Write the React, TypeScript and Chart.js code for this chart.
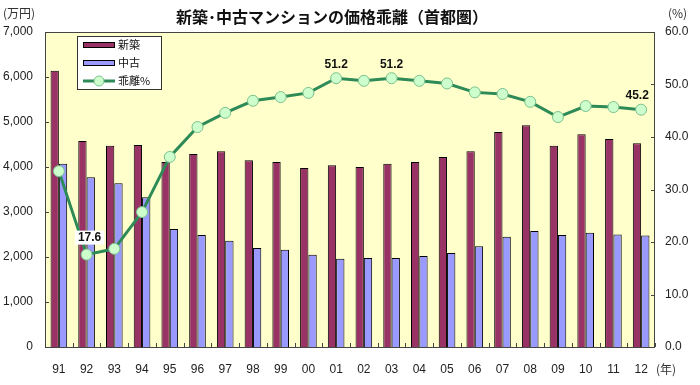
import React, { useEffect, useRef } from "react";
import { Chart, registerables } from "chart.js";
Chart.register(...registerables);

const years = ["91","92","93","94","95","96","97","98","99","00","01","02","03","04","05","06","07","08","09","10","11","12"];
const newPrices = [6140, 4580, 4470, 4490, 4110, 4290, 4350, 4150, 4110, 3980, 4040, 4000, 4070, 4110, 4220, 4350, 4780, 4930, 4470, 4730, 4620, 4530];
const usedPrices = [4070, 3770, 3640, 3330, 2620, 2490, 2360, 2200, 2160, 2050, 1960, 1980, 1980, 2020, 2090, 2240, 2450, 2580, 2490, 2540, 2500, 2480];
const gapPct = [33.5, 17.6, 18.7, 25.7, 36.2, 41.9, 44.6, 46.9, 47.6, 48.4, 51.2, 50.7, 51.2, 50.7, 50.2, 48.5, 48.2, 46.7, 43.8, 45.9, 45.7, 45.2];
const labeledIdx = [1, 10, 12, 21];
const legendLabels = ["新築", "中古", "乖離%"];
const titleText = "新築･中古マンションの価格乖離（首都圏）";

const RED = "#993366";
const BLUE = "#9999FF";
const GREEN = "#2E8B57";
const POINT_FILL = "#CCFFCC";
const JP = '"Noto Sans CJK JP", "Liberation Sans", sans-serif';
const NUM = '"Liberation Sans", Arial, sans-serif';

const extrasPlugin = {
  id: "extras",
  beforeDraw(chart: any) {
    const { ctx, chartArea: a } = chart;
    ctx.save();
    ctx.fillStyle = "#FFFFCC";
    ctx.fillRect(a.left, a.top, a.right - a.left, a.bottom - a.top);
    ctx.restore();
  },
  afterDraw(chart: any) {
    const { ctx, chartArea: a, scales } = chart;
    ctx.save();
    // border
    ctx.strokeStyle = "#444";
    ctx.lineWidth = 1;
    ctx.strokeRect(a.left + 0.5, a.top + 0.5, a.right - a.left - 1, a.bottom - a.top);
    // inward ticks
    ctx.beginPath();
    for (let i = 0; i <= years.length; i++) {
      const px = Math.round(a.left + ((a.right - a.left) * i) / years.length) + 0.5;
      ctx.moveTo(px, a.bottom);
      ctx.lineTo(px, a.bottom - 4);
    }
    for (let v = 1000; v < 7000; v += 1000) {
      const py = Math.round(scales.y.getPixelForValue(v)) + 0.5;
      ctx.moveTo(a.left, py);
      ctx.lineTo(a.left + 4, py);
    }
    for (let v = 10; v < 60; v += 10) {
      const py = Math.round(scales.y2.getPixelForValue(v)) + 0.5;
      ctx.moveTo(a.right, py);
      ctx.lineTo(a.right - 4, py);
    }
    ctx.stroke();

    // data labels
    const meta = chart.getDatasetMeta(2);
    ctx.font = "bold 12px " + NUM;
    ctx.textAlign = "center";
    ctx.textBaseline = "middle";
    labeledIdx.forEach((i) => {
      const pt = meta.data[i];
      const txt = gapPct[i].toFixed(1);
      let lx = pt.x, ly = pt.y - 14;
      if (i === 1) { lx = pt.x + 3; ly = pt.y - 17; }
      if (i === 21) { lx = pt.x - 4; }
      const w = ctx.measureText(txt).width + 6;
      ctx.fillStyle = "#FFFFFF";
      if (i === 1) ctx.fillRect(lx - w / 2, ly - 7, w, 14);
      ctx.fillStyle = "#111";
      ctx.fillText(txt, lx, ly);
    });

    // title
    ctx.font = "bold 16px " + JP;
    ctx.fillStyle = "#111";
    ctx.textAlign = "center";
    ctx.fillText(titleText, 332, 17);

    // unit labels
    ctx.font = "12px " + JP;
    ctx.fillStyle = "#333";
    ctx.textAlign = "left";
    ctx.fillText("(万円)", 3, 13);
    ctx.fillText("(%)", 668, 13);
    ctx.fillText("(年)", 656, 369);

    // legend
    const lx0 = 77, ly0 = 36, lw = 84, lh = 53;
    ctx.fillStyle = "#FFFFFF";
    ctx.fillRect(lx0, ly0, lw, lh);
    ctx.strokeStyle = "#333";
    ctx.strokeRect(lx0 + 0.5, ly0 + 0.5, lw, lh);
    const rows = [45, 63, 81];
    ctx.font = "11px " + JP;
    ctx.textBaseline = "middle";
    [RED, BLUE].forEach((c, k) => {
      ctx.fillStyle = c;
      ctx.fillRect(83, rows[k] - 3, 32, 6);
      ctx.strokeStyle = "#000";
      ctx.strokeRect(83.5, rows[k] - 2.5, 31, 5);
    });
    ctx.strokeStyle = GREEN;
    ctx.lineWidth = 3;
    ctx.beginPath();
    ctx.moveTo(83, rows[2]);
    ctx.lineTo(115, rows[2]);
    ctx.stroke();
    ctx.beginPath();
    ctx.arc(99, rows[2], 5, 0, Math.PI * 2);
    ctx.fillStyle = POINT_FILL;
    ctx.fill();
    ctx.lineWidth = 1;
    ctx.strokeStyle = "#7CC08E";
    ctx.stroke();
    ctx.fillStyle = "#111";
    legendLabels.forEach((t, k) => ctx.fillText(t, 118, rows[k]));
    ctx.restore();
  },
};

export default function App() {
  const ref = useRef<HTMLCanvasElement>(null);
  useEffect(() => {
    document.body.style.margin = "0";
    const chart = new Chart(ref.current as HTMLCanvasElement, {
      type: "bar",
      data: {
        labels: years,
        datasets: [
          {
            type: "bar",
            label: legendLabels[0],
            data: newPrices,
            backgroundColor: RED,
            borderColor: "#000",
            borderWidth: 1,
            yAxisID: "y",
            categoryPercentage: 0.6,
            barPercentage: 1.0,
            order: 1,
          },
          {
            type: "bar",
            label: legendLabels[1],
            data: usedPrices,
            backgroundColor: BLUE,
            borderColor: "#000",
            borderWidth: 1,
            yAxisID: "y",
            categoryPercentage: 0.6,
            barPercentage: 1.0,
            order: 2,
          },
          {
            type: "line",
            label: legendLabels[2],
            data: gapPct,
            borderColor: GREEN,
            borderWidth: 3,
            pointRadius: 5.5,
            pointBackgroundColor: POINT_FILL,
            pointBorderColor: "#7CC08E",
            pointBorderWidth: 1,
            yAxisID: "y2",
            tension: 0,
            order: 0,
          } as any,
        ],
      },
      options: {
        responsive: false,
        animation: false,
        layout: { padding: { top: 32, left: 0, right: 0, bottom: 0 } },
        plugins: { legend: { display: false }, tooltip: { enabled: false }, title: { display: false } },
        scales: {
          x: {
            grid: { display: false, drawTicks: false },
            border: { display: false },
            ticks: { font: { size: 12, family: NUM }, color: "#222", padding: 15 },
            afterFit: (s: any) => { s.height = 38; },
          },
          y: {
            position: "left",
            min: 0,
            max: 7000,
            grid: { display: false, drawTicks: false },
            border: { display: false },
            ticks: {
              stepSize: 1000,
              font: { size: 12, family: NUM },
              color: "#222",
              padding: 12,
              callback: (v: any) => Number(v).toLocaleString("en-US"),
            },
            afterFit: (s: any) => { s.width = 45; },
          },
          y2: {
            position: "right",
            min: 0,
            max: 60,
            grid: { display: false, drawTicks: false },
            border: { display: false },
            ticks: {
              stepSize: 10,
              font: { size: 12, family: NUM },
              color: "#222",
              padding: 10,
              callback: (v: any) => Number(v).toFixed(1),
            },
            afterFit: (s: any) => { s.width = 45; },
          },
        },
      },
      plugins: [extrasPlugin],
    });
    return () => chart.destroy();
  }, []);
  return (
    <div style={{ position: "absolute", left: 0, top: 0, width: 700, height: 385, background: "#fff" }}>
      <canvas ref={ref} width={700} height={385} style={{ width: 700, height: 385 }} />
    </div>
  );
}
